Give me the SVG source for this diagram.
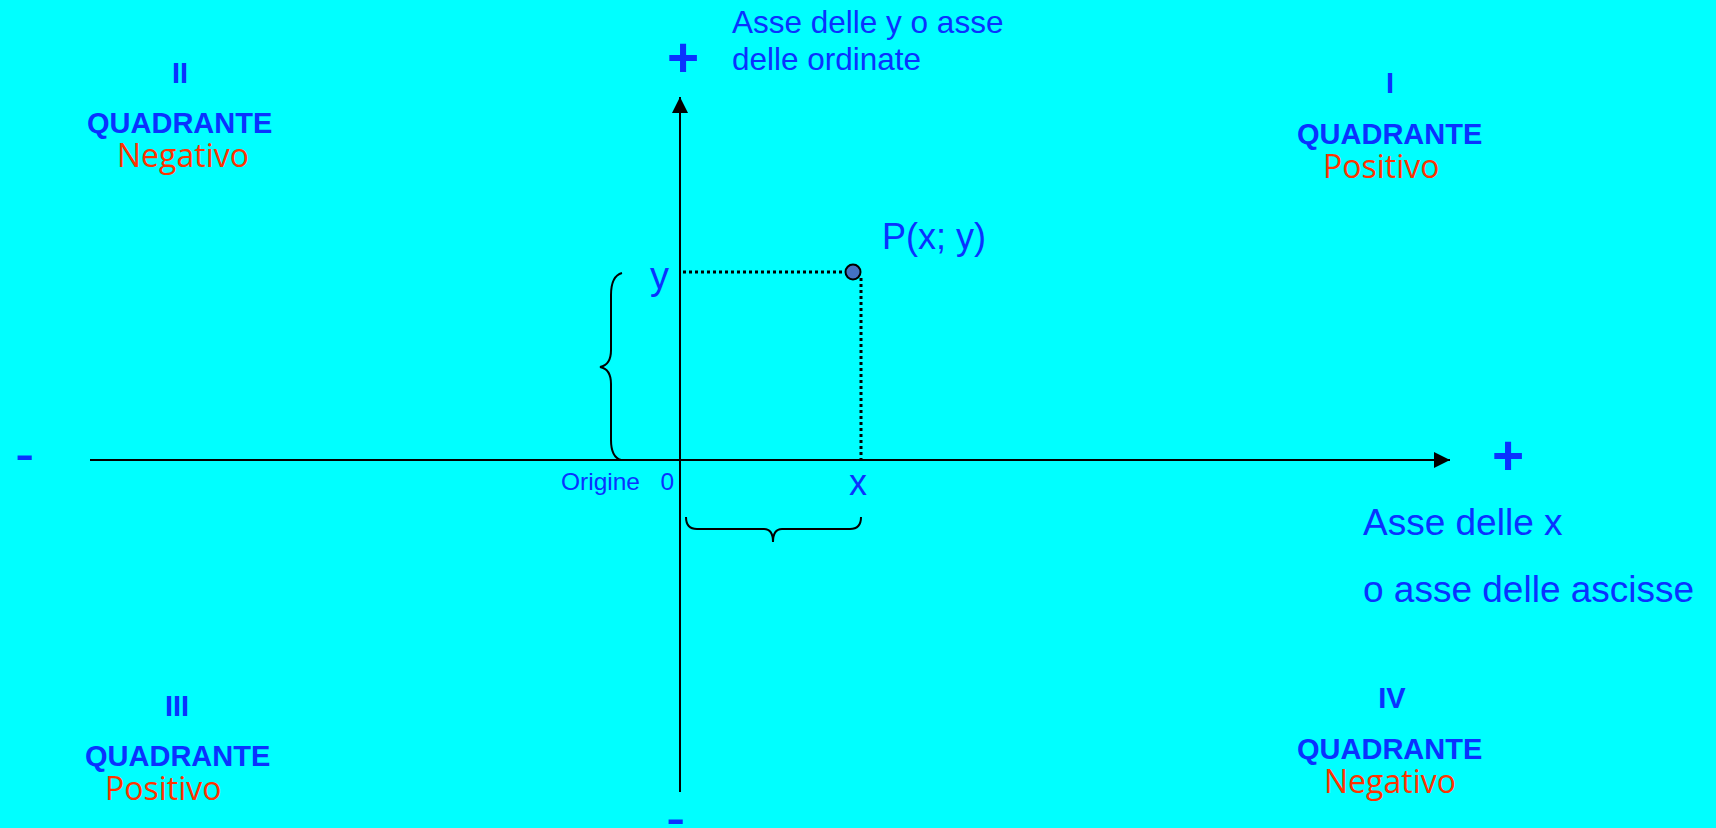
<svg xmlns="http://www.w3.org/2000/svg" width="1716" height="828" viewBox="0 0 1716 828">
<style>
.t{font-family:"Liberation Sans",Arial,sans-serif;fill:#0A32FF}
.s{font-family:"Liberation Sans",Arial,sans-serif;font-weight:bold;fill:#0A32FF}
.q{font-family:"Liberation Sans",Arial,sans-serif;font-weight:bold;font-size:29px;fill:#0A32FF}
.r{font-family:"Open Sans","Noto Sans",sans-serif;font-size:32px;fill:#FF3300}
.ax{stroke:#000;stroke-width:2;fill:none}
.dot{stroke:#000;stroke-width:3;stroke-dasharray:3 3;fill:none}
.br{stroke:#000;stroke-width:2;fill:none}
</style>
<defs>
<marker id="arr" markerWidth="8" markerHeight="8" refX="8" refY="4" orient="auto" markerUnits="strokeWidth">
<path d="M0,0 L8,4 L0,8 z" fill="#000"/>
</marker>
</defs>
<rect width="1716" height="828" fill="#00FFFF"/>
<g id="connectors">
<line class="ax" x1="90" y1="460" x2="1450" y2="460" marker-end="url(#arr)"/>
<line class="ax" x1="680" y1="792" x2="680" y2="97" marker-end="url(#arr)"/>
<line class="dot" x1="683" y1="272" x2="846" y2="272"/>
<line class="dot" x1="861" y1="278" x2="861" y2="460"/>
<path class="br" d="M622,273 Q611,276 611,295 L611,350 Q611,365 600,367 Q611,369 611,384 L611,440 Q611,457 621,460"/>
<path class="br" d="M686,517 Q686,529 697,529 L764,529 Q773,529 773,542 Q773,529 782,529 L850,529 Q861,529 861,517"/>
</g>
<g id="point-p">
<circle cx="853" cy="272" r="7.5" fill="#4472C4" stroke="#000" stroke-width="2"/>
<text class="t" x="882" y="249" font-size="36">P(x; y)</text>
</g>
<g id="label-y"><text class="t" x="650" y="289" font-size="38">y</text></g>
<g id="label-x"><text class="t" x="849" y="495" font-size="36">x</text></g>
<g id="origin"><text class="t" x="561" y="490" font-size="24.5" xml:space="preserve">Origine   0</text></g>
<g id="y-axis-label">
<text class="s" x="683" y="76" font-size="55" text-anchor="middle">+</text>
<text class="t" x="732" y="33" font-size="31.5">Asse delle y o asse</text>
<text class="t" x="732" y="70" font-size="31.5">delle ordinate</text>
<text class="t" x="666" y="837" font-size="58">-</text>
</g>
<g id="x-axis-label">
<text class="s" x="1508" y="474" font-size="55" text-anchor="middle">+</text>
<text class="t" x="15" y="473" font-size="58">-</text>
<text class="t" x="1363" y="535" font-size="37">Asse delle x</text>
<text class="t" x="1363" y="602" font-size="37">o asse delle ascisse</text>
</g>
<g id="quadrant-1">
<text class="q" x="1390" y="93" text-anchor="middle">I</text>
<text class="q" x="1297" y="144">QUADRANTE</text>
<text class="r" x="1323" y="178">Positivo</text>
</g>
<g id="quadrant-2">
<text class="q" x="180" y="83" text-anchor="middle">II</text>
<text class="q" x="87" y="133">QUADRANTE</text>
<text class="r" x="117" y="167">Negativo</text>
</g>
<g id="quadrant-3">
<text class="q" x="177" y="716" text-anchor="middle">III</text>
<text class="q" x="85" y="766">QUADRANTE</text>
<text class="r" x="105" y="800">Positivo</text>
</g>
<g id="quadrant-4">
<text class="q" x="1392" y="708" text-anchor="middle">IV</text>
<text class="q" x="1297" y="759">QUADRANTE</text>
<text class="r" x="1324" y="793">Negativo</text>
</g>
</svg>
